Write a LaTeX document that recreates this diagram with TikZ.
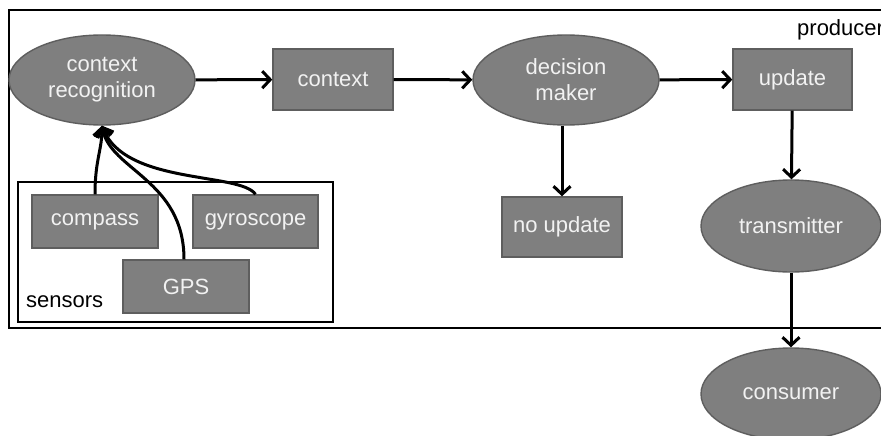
\documentclass[tikz,border=0pt]{standalone}
\usepackage{fontspec}
\setmainfont{Liberation Sans}
\usetikzlibrary{shapes.geometric,arrows.meta}
\definecolor{boxfill}{HTML}{7F7F7F}
\definecolor{boxline}{HTML}{5E5E5E}
\definecolor{boxtext}{HTML}{F2F2F2}
\tikzset{
  base/.style={fill=boxfill, draw=boxline, line width=1.4pt, text=boxtext,
    font=\fontsize{22}{26}\selectfont, align=center, inner sep=0pt},
  procbox/.style={base, rectangle, minimum width=#1, minimum height=61pt},
  procbox/.default=120pt,
  oval/.style={base, ellipse, minimum width=186pt, minimum height=90pt},
  flow/.style={line width=3pt, -{Straight Barb[length=8pt,width=17pt]}},
  frame/.style={line width=2.2pt},
  caption/.style={font=\fontsize{22}{26}\selectfont, inner sep=0pt}
}
\begin{document}
\begin{tikzpicture}[x=1pt,y=-1pt]
\path[use as bounding box, clip] (0,0) rectangle (881,436);
\fill[white] (0,0) rectangle (881,436);

% producer frame (open on the right)
\draw[frame] (950,10) -- (9,10) -- (9,328) -- (950,328);
\node[caption, anchor=west] (prodlabel) at (797,30) {producer};

% sensors group
\draw[frame] (18,182) rectangle (333,322);
\node[caption, anchor=west] (senslabel) at (26,302) {sensors};

% nodes
\node[oval] (cr) at (102,80) {context\\recognition};
\node[procbox] (ctx) at (333,79.5) {context};
\node[oval] (dm) at (566,80) {decision\\maker};
\node[procbox=119pt] (upd) at (792.5,79.5) {update};
\node[procbox=120pt, minimum height=60pt] (nou) at (562,227) {no update};
\node[oval, minimum width=180pt, minimum height=92pt] (tr) at (791,226) {transmitter};
\node[oval, minimum width=180pt, minimum height=92pt] (con) at (791,394) {consumer};

\node[procbox=126pt, minimum height=53pt] (comp) at (95,221.5) {compass};
\node[procbox=125pt, minimum height=53pt] (gyro) at (255.5,221.5) {gyroscope};
\node[procbox=126pt, minimum height=53pt] (gps) at (186,286.5) {GPS};

% main flow
\draw[flow] (cr) -- (ctx);
\draw[flow] (ctx) -- (dm);
\draw[flow] (dm) -- (upd);
\draw[flow] (upd) -- (tr);
\draw[flow] (dm.south -| nou.north) -- (nou);
\draw[flow] (tr) -- (con);

% sensor inputs
\draw[flow] (comp.north) .. controls (95,160) and (102,150) .. (cr.south);
\draw[flow] ([xshift=-2pt]gps.north) .. controls (184,180) and (110,170) .. (cr.south);
\draw[flow] (gyro.north) .. controls (240,172) and (125,185) .. (cr.south);
\end{tikzpicture}
\end{document}
